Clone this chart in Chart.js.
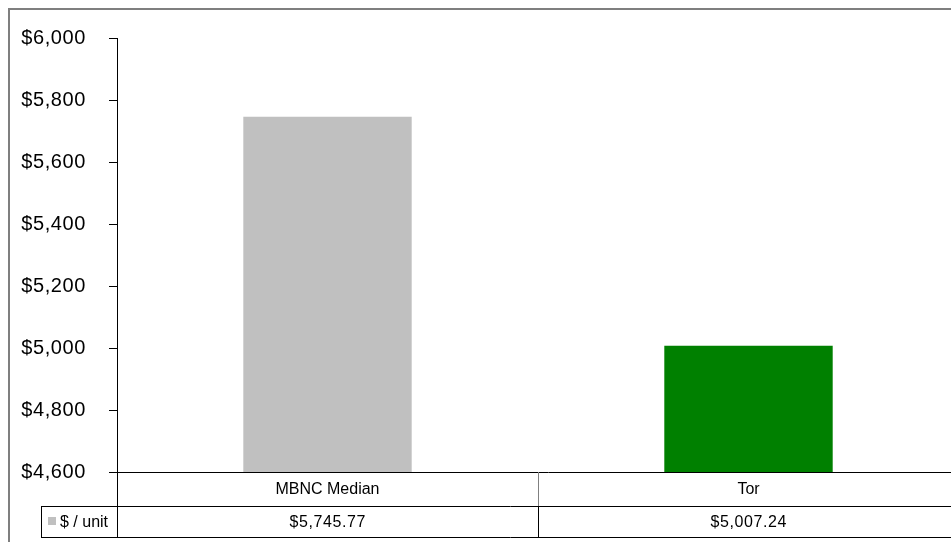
<!DOCTYPE html>
<html lang="en">
<head>
    <meta charset="UTF-8">
    <title>$ / unit</title>
    <style>
        html, body {
            margin: 0;
            padding: 0;
            overflow: hidden;
            background: #fff;
        }
        #wrap {
            position: absolute;
            left: 0;
            top: 0;
            width: 980px;
            height: 560px;
        }
    </style>
    <script src="https://cdn.jsdelivr.net/npm/chart.js"></script>
</head>
<body>
    <div id="wrap"><canvas id="chart"></canvas></div>

    <script>
        const categories = ['MBNC Median', 'Tor'];
        const perUnit = [5745.77, 5007.24];
        const barColors = ['#C0C0C0', '#008000'];
        const seriesLabel = '$ / unit';
        const yMin = 4600;
        const yMax = 6000;
        const yStep = 200;

        const FONT = '"Liberation Sans", Arial, sans-serif';

        function money(v, dec) {
            return '$' + v.toLocaleString('en-US', { minimumFractionDigits: dec, maximumFractionDigits: dec });
        }

        // outer frame + data table under the bars
        const tablePlugin = {
            id: 'dataTable',
            beforeDraw(chart) {
                const ctx = chart.ctx;
                ctx.save();
                ctx.fillStyle = '#fff';
                ctx.fillRect(0, 0, chart.width, chart.height);
                ctx.strokeStyle = '#7f7f7f';
                ctx.lineWidth = 2;
                ctx.strokeRect(9, 9, chart.width + 20, chart.height + 20);
                ctx.restore();
                // slightly wider figures for the axis labels
                ctx.letterSpacing = '0.6px';
            },
            afterDraw(chart) {
                const ctx = chart.ctx;
                ctx.letterSpacing = '0px';
                const area = chart.chartArea;
                const xs = chart.scales.x;
                const row1 = area.bottom;
                const row2 = 506;
                const row3 = 537;
                const legendLeft = 41;
                const half = (xs.getPixelForValue(1) - xs.getPixelForValue(0)) / 2;

                ctx.save();
                ctx.lineWidth = 1;
                ctx.strokeStyle = '#000';

                // x axis line and table rows
                ctx.beginPath();
                ctx.moveTo(area.left, row1 + 0.5);
                ctx.lineTo(chart.width, row1 + 0.5);
                ctx.moveTo(legendLeft, row2 + 0.5);
                ctx.lineTo(chart.width, row2 + 0.5);
                ctx.moveTo(legendLeft, row3 + 0.5);
                ctx.lineTo(chart.width, row3 + 0.5);
                ctx.moveTo(legendLeft + 0.5, row2);
                ctx.lineTo(legendLeft + 0.5, row3);
                ctx.moveTo(area.left + 0.5, row1);
                ctx.lineTo(area.left + 0.5, row3);
                ctx.stroke();

                // column separators
                categories.forEach((c, i) => {
                    const xr = Math.round(xs.getPixelForValue(i) + half) + 0.5;
                    ctx.strokeStyle = '#808080';
                    ctx.beginPath();
                    ctx.moveTo(xr, row1);
                    ctx.lineTo(xr, row2);
                    ctx.stroke();
                    ctx.strokeStyle = '#000';
                    ctx.beginPath();
                    ctx.moveTo(xr, row2);
                    ctx.lineTo(xr, row3);
                    ctx.stroke();
                });

                // texts
                ctx.fillStyle = '#000';
                ctx.font = '16px ' + FONT;
                ctx.textAlign = 'center';
                ctx.textBaseline = 'middle';
                categories.forEach((c, i) => {
                    const cx = xs.getPixelForValue(i);
                    ctx.letterSpacing = '0px';
                    ctx.fillText(c, cx, (row1 + row2) / 2 + 1);
                    ctx.letterSpacing = '0.6px';
                    ctx.fillText(money(perUnit[i], 2), cx + 0.3, (row2 + row3) / 2 + 1);
                });

                // legend key
                ctx.letterSpacing = '0px';
                ctx.fillStyle = barColors[0];
                ctx.fillRect(48, 517, 8, 8);
                ctx.fillStyle = '#000';
                ctx.textAlign = 'left';
                ctx.fillText(seriesLabel, 60, (row2 + row3) / 2 + 1);
                ctx.restore();
            }
        };

        new Chart(document.getElementById('chart'), {
            type: 'bar',
            data: {
                labels: categories,
                datasets: [{
                    label: seriesLabel,
                    data: perUnit,
                    backgroundColor: barColors,
                    borderWidth: 0,
                    categoryPercentage: 1,
                    barPercentage: 0.4
                }]
            },
            options: {
                responsive: true,
                maintainAspectRatio: false,
                animation: false,
                layout: {
                    padding: { top: 38, bottom: 560 - 472, left: 0, right: 980 - 959 }
                },
                plugins: {
                    legend: { display: false },
                    tooltip: { enabled: false }
                },
                scales: {
                    x: {
                        display: false
                    },
                    y: {
                        min: yMin,
                        max: yMax,
                        afterFit(scale) { scale.width = 117; },
                        ticks: {
                            stepSize: yStep,
                            color: '#000',
                            padding: 23,
                            font: { family: FONT, size: 20 },
                            callback: v => money(v, 0)
                        },
                        grid: {
                            drawOnChartArea: false,
                            tickLength: 8,
                            color: '#000'
                        },
                        border: { color: '#000' }
                    }
                }
            },
            plugins: [tablePlugin]
        });
    </script>
</body>
</html>
